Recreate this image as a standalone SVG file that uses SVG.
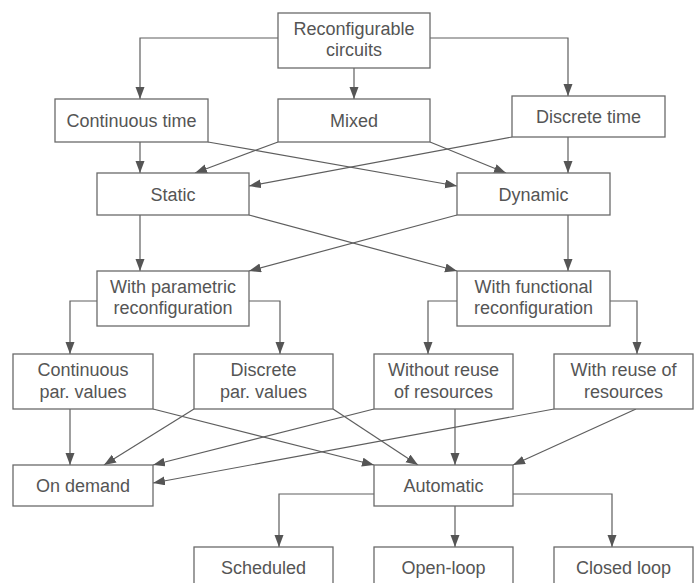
<svg xmlns="http://www.w3.org/2000/svg" width="699" height="583" viewBox="0 0 699 583">
<style>
.box{fill:#fff;stroke:#6a6a6a;stroke-width:1.3}
.t{font-family:"Liberation Sans",Arial,sans-serif;font-size:18px;fill:#555;text-anchor:middle}
.c{fill:none;stroke:#5e5e5e;stroke-width:1.2;marker-end:url(#ah)}
</style>
<defs>
<marker id="ah" markerUnits="userSpaceOnUse" markerWidth="13" markerHeight="10" refX="12" refY="4.5" orient="auto">
<path d="M0,0 L12,4.5 L0,9 z" fill="#555"/>
</marker>
</defs>
<rect width="699" height="583" fill="#fff"/>
<g id="connectors">
<path class="c" d="M278,38 H140 V99"/>
<path class="c" d="M354,68 V99"/>
<path class="c" d="M430,38 H568 V96"/>
<path class="c" d="M140,142 V173"/>
<path class="c" d="M278,142 L195,173"/>
<path class="c" d="M208,142 L457,186"/>
<path class="c" d="M430,142 L506,173"/>
<path class="c" d="M512,137 L249,186"/>
<path class="c" d="M568,137 V173"/>
<path class="c" d="M140,215 V271"/>
<path class="c" d="M249,215 L457,271"/>
<path class="c" d="M457,215 L249,271"/>
<path class="c" d="M568,215 V271"/>
<path class="c" d="M97,301 H70 V354"/>
<path class="c" d="M249,301 H280 V354"/>
<path class="c" d="M457,301 H428 V354"/>
<path class="c" d="M610,301 H637 V354"/>
<path class="c" d="M70,409 V465"/>
<path class="c" d="M194,409 L104,465"/>
<path class="c" d="M153,409 L374,465"/>
<path class="c" d="M333,409 L418,465"/>
<path class="c" d="M374,409 L153,465"/>
<path class="c" d="M455,409 V465"/>
<path class="c" d="M554,409 L153,483"/>
<path class="c" d="M636,409 L513,465"/>
<path class="c" d="M374,494 H279 V547"/>
<path class="c" d="M455,506 V547"/>
<path class="c" d="M513,494 H612 V547"/>
</g>
<g id="n-reconfigurable"><rect class="box" x="278" y="13" width="152" height="55"/><text class="t" x="354" y="35">Reconfigurable</text><text class="t" x="354" y="56">circuits</text></g>
<g id="n-continuous-time"><rect class="box" x="55" y="99" width="153" height="43"/><text class="t" x="131.5" y="127">Continuous time</text></g>
<g id="n-mixed"><rect class="box" x="278" y="99" width="152" height="43"/><text class="t" x="354" y="127">Mixed</text></g>
<g id="n-discrete-time"><rect class="box" x="512" y="96" width="153" height="41"/><text class="t" x="588.5" y="123">Discrete time</text></g>
<g id="n-static"><rect class="box" x="97" y="173" width="152" height="42"/><text class="t" x="173" y="200.5">Static</text></g>
<g id="n-dynamic"><rect class="box" x="457" y="173" width="153" height="42"/><text class="t" x="533.5" y="200.5">Dynamic</text></g>
<g id="n-parametric"><rect class="box" x="97" y="271" width="152" height="55"/><text class="t" x="173" y="293">With parametric</text><text class="t" x="173" y="314">reconfiguration</text></g>
<g id="n-functional"><rect class="box" x="457" y="271" width="153" height="55"/><text class="t" x="533.5" y="293">With functional</text><text class="t" x="533.5" y="314">reconfiguration</text></g>
<g id="n-continuous-par"><rect class="box" x="13" y="354" width="140" height="55"/><text class="t" x="83" y="376">Continuous</text><text class="t" x="83" y="397.5">par. values</text></g>
<g id="n-discrete-par"><rect class="box" x="194" y="354" width="139" height="55"/><text class="t" x="263.5" y="376">Discrete</text><text class="t" x="263.5" y="397.5">par. values</text></g>
<g id="n-without-reuse"><rect class="box" x="374" y="354" width="139" height="55"/><text class="t" x="443.5" y="376">Without reuse</text><text class="t" x="443.5" y="397.5">of resources</text></g>
<g id="n-with-reuse"><rect class="box" x="554" y="354" width="139" height="55"/><text class="t" x="623.5" y="376">With reuse of</text><text class="t" x="623.5" y="397.5">resources</text></g>
<g id="n-on-demand"><rect class="box" x="13" y="465" width="140" height="41"/><text class="t" x="83" y="492">On demand</text></g>
<g id="n-automatic"><rect class="box" x="374" y="465" width="139" height="41"/><text class="t" x="443.5" y="492">Automatic</text></g>
<g id="n-scheduled"><rect class="box" x="194" y="547" width="139" height="42"/><text class="t" x="263.5" y="574">Scheduled</text></g>
<g id="n-open-loop"><rect class="box" x="374" y="547" width="139" height="42"/><text class="t" x="443.5" y="574">Open-loop</text></g>
<g id="n-closed-loop"><rect class="box" x="554" y="547" width="139" height="42"/><text class="t" x="623.5" y="574">Closed loop</text></g>
</svg>
